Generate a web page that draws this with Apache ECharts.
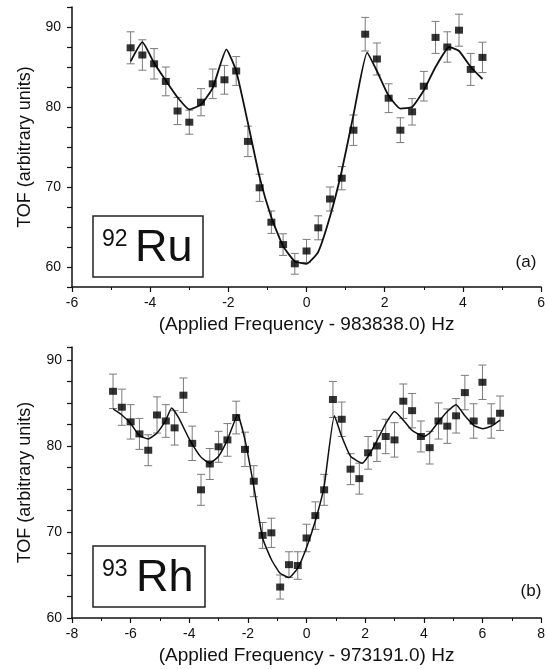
<!DOCTYPE html>
<html><head><meta charset="utf-8">
<script src="https://cdn.jsdelivr.net/npm/echarts@6/dist/echarts.min.js"></script>
<style>html,body{margin:0;padding:0;background:#fff}#c{width:548px;height:669px}</style>
</head><body><div id="c"></div>
<script>
// Panel (a) 92Ru
var ruX = [-4.5,-4.2,-3.9,-3.6,-3.3,-3.0,-2.7,-2.4,-2.1,-1.8,-1.5,-1.2,-0.9,-0.6,-0.3,0,0.3,0.6,0.9,1.2,1.5,1.8,2.1,2.4,2.7,3.0,3.3,3.6,3.9,4.2,4.5];
var ruY = [87.4,86.5,85.4,83.2,79.5,78.1,80.6,82.9,83.4,84.5,75.7,69.9,65.6,62.8,60.4,62.0,64.9,68.5,71.1,77.1,89.1,86.0,81.1,77.1,79.4,82.6,88.7,87.5,89.6,84.7,86.2];
var ruErr = [2.0,1.9,1.9,1.8,1.7,1.5,1.7,1.85,1.8,1.8,1.9,1.7,1.4,1.35,1.3,1.45,1.5,1.5,1.45,1.9,2.1,2.0,1.8,1.55,1.65,1.85,2.0,1.9,2.0,2.0,1.9];
var ruFitX = [-4.5,-4.2,-3.9,-3.6,-3.3,-3.0,-2.7,-2.4,-2.05,-1.8,-1.5,-1.2,-0.9,-0.6,-0.3,0,0.3,0.6,0.9,1.2,1.55,1.8,2.1,2.4,2.7,3.0,3.3,3.65,3.9,4.2,4.5];
var ruFitY = [85.7,88.1,85.5,83.3,81.2,79.7,80.3,82.4,87.2,84.5,78.0,71.2,66.2,62.6,60.7,60.4,61.9,66.3,72.0,79.0,86.8,84.5,81.4,79.8,80.0,82.1,85.0,87.5,87.0,85.0,83.5];

// Panel (b) 93Rh
var rhX = [-6.6,-6.3,-6.0,-5.7,-5.4,-5.1,-4.8,-4.5,-4.2,-3.9,-3.6,-3.3,-3.0,-2.7,-2.4,-2.1,-1.8,-1.5,-1.2,-0.9,-0.6,-0.3,0,0.3,0.6,0.9,1.2,1.5,1.8,2.1,2.4,2.7,3.0,3.3,3.6,3.9,4.2,4.5,4.8,5.1,5.4,5.7,6.0,6.3,6.6];
var rhY = [86.35,84.5,82.8,81.4,79.5,83.6,82.9,82.1,85.9,80.3,74.9,77.9,79.9,80.7,83.3,79.6,75.9,69.6,69.9,63.6,66.2,66.1,69.3,71.9,74.9,85.4,83.1,77.3,76.2,79.2,80.0,81.1,80.7,85.2,84.1,81.1,79.8,82.9,82.3,83.5,86.2,82.9,87.4,82.9,83.8];
var rhErr = [2.0,2.1,2.0,1.8,1.8,2.1,1.9,2.0,2.0,2.0,1.8,1.8,1.8,1.9,1.9,2.0,1.8,1.5,1.7,1.4,1.5,1.6,1.6,1.6,1.8,2.1,2.0,1.8,1.8,1.9,1.8,2.0,2.0,2.0,2.0,1.8,1.9,2.1,2.0,2.0,2.0,2.0,2.0,2.0,2.0];
var rhFitX = [-6.6,-6.3,-6.0,-5.7,-5.4,-5.1,-4.8,-4.6,-4.35,-4.0,-3.6,-3.3,-3.0,-2.7,-2.35,-2.1,-1.8,-1.5,-1.2,-0.9,-0.6,-0.3,0,0.3,0.6,0.95,1.2,1.5,1.9,2.1,2.4,2.7,3.0,3.3,3.6,4.0,4.2,4.5,4.8,5.1,5.4,5.7,6.0,6.3,6.6];
var rhFitY = [84.3,83.6,82.6,81.2,80.8,81.5,83.0,84.4,83.2,80.8,78.7,78.0,78.8,80.7,83.6,80.7,75.3,69.3,66.8,65.2,64.7,65.8,68.2,71.3,75.3,83.5,81.1,78.8,78.0,78.8,80.6,82.6,84.0,83.0,81.8,81.1,81.5,82.8,84.0,84.8,83.5,82.4,82.0,82.3,83.0];

var yTitle = 'TOF (arbitrary units)';
var xTitleA = '(Applied Frequency - 983838.0) Hz';
var xTitleB = '(Applied Frequency - 973191.0) Hz';

function zip(a, b) { return a.map(function (v, i) { return [v, b[i]]; }); }
function zip3(a, b, c) { return a.map(function (v, i) { return [v, b[i], c[i]]; }); }

var FONT = 'Liberation Sans, Arial, sans-serif';

function errSeries(idx, data) {
  return {
    type: 'custom', xAxisIndex: idx, yAxisIndex: idx, data: data, z: 2,
    renderItem: function (params, api) {
      var x = api.value(0), y = api.value(1), e = api.value(2);
      var hi = api.coord([x, y + e]), lo = api.coord([x, y - e]);
      var w = 4;
      var st = { stroke: '#7a7a7a', lineWidth: 1 };
      return { type: 'group', children: [
        { type: 'line', shape: { x1: hi[0], y1: hi[1], x2: lo[0], y2: lo[1] }, style: st },
        { type: 'line', shape: { x1: hi[0] - w, y1: hi[1], x2: hi[0] + w, y2: hi[1] }, style: st },
        { type: 'line', shape: { x1: lo[0] - w, y1: lo[1], x2: lo[0] + w, y2: lo[1] }, style: st }
      ]};
    }
  };
}

function xAxis(idx, min, max, title) {
  return {
    type: 'value', gridIndex: idx, min: min, max: max, interval: 2,
    name: title, nameLocation: 'middle', nameGap: 28,
    nameTextStyle: { fontFamily: FONT, fontSize: 19, color: '#111' },
    axisLine: { show: true, onZero: false, lineStyle: { color: '#111', width: 1.5 } },
    axisTick: { show: true, length: 5, lineStyle: { color: '#111', width: 1.2 } },
    minorTick: { show: true, splitNumber: 2, length: 3, lineStyle: { color: '#111', width: 1 } },
    axisLabel: { fontFamily: FONT, fontSize: 14, color: '#111', margin: 9 },
    splitLine: { show: false }
  };
}
function yAxis(idx, min, max, margin) {
  return {
    type: 'value', gridIndex: idx, min: min, max: max, interval: 2.5,
    name: yTitle, nameLocation: 'middle', nameGap: 38, nameRotate: 90,
    nameTextStyle: { fontFamily: FONT, fontSize: 18, color: '#111' },
    axisLine: { show: true, onZero: false, lineStyle: { color: '#111', width: 1.5 } },
    axisTick: { show: true, length: 5, lineStyle: { color: '#111', width: 1.2 } },
    axisLabel: { fontFamily: FONT, fontSize: 14, color: '#111', margin: margin,
      formatter: function (v) { return (Math.abs(v % 10) < 1e-6) ? String(v) : ''; } },
    splitLine: { show: false }
  };
}

var chart = echarts.init(document.getElementById('c'), null, { renderer: 'canvas' });
chart.setOption({
  backgroundColor: '#fff',
  animation: false,
  grid: [
    { left: 72, top: 7, width: 471, height: 280 },
    { left: 72, top: 347, width: 472, height: 271 }
  ],
  xAxis: [xAxis(0, -6, 6, xTitleA), xAxis(1, -8, 8, xTitleB)],
  yAxis: [yAxis(0, 57.5, 92.5, 11), yAxis(1, 60, 91.5, 10)],
  series: [
    { type: 'line', xAxisIndex: 0, yAxisIndex: 0, data: zip(ruFitX, ruFitY), showSymbol: false, smooth: 0.15,
      lineStyle: { color: '#111', width: 1.8 }, z: 3 },
    errSeries(0, zip3(ruX, ruY, ruErr)),
    { type: 'scatter', xAxisIndex: 0, yAxisIndex: 0, data: zip(ruX, ruY), symbol: 'rect', symbolSize: [8, 7],
      itemStyle: { color: '#000' }, z: 4 },
    { type: 'line', xAxisIndex: 1, yAxisIndex: 1, data: zip(rhFitX, rhFitY), showSymbol: false, smooth: 0.15,
      lineStyle: { color: '#111', width: 1.5 }, z: 3 },
    errSeries(1, zip3(rhX, rhY, rhErr)),
    { type: 'scatter', xAxisIndex: 1, yAxisIndex: 1, data: zip(rhX, rhY), symbol: 'rect', symbolSize: [8, 7],
      itemStyle: { color: '#000' }, z: 4 }
  ],
  graphic: [
    { type: 'rect', shape: { x: 93, y: 216, width: 110, height: 61 }, style: { fill: '#fff', stroke: '#222', lineWidth: 1.5 }, z: 10 },
    { type: 'text', x: 102, y: 228, style: { text: '92', fontFamily: FONT, fontSize: 23, fill: '#111', textVerticalAlign: 'top' }, z: 11 },
    { type: 'text', x: 135, y: 226, style: { text: 'Ru', fontFamily: FONT, fontSize: 45, fill: '#111', textVerticalAlign: 'top' }, z: 11 },
    { type: 'text', x: 526, y: 262, style: { text: '(a)', fontFamily: FONT, fontSize: 17, fill: '#111', textAlign: 'center', textVerticalAlign: 'middle' }, z: 11 },
    { type: 'rect', shape: { x: 93, y: 546, width: 112, height: 61 }, style: { fill: '#fff', stroke: '#222', lineWidth: 1.5 }, z: 10 },
    { type: 'text', x: 102, y: 558, style: { text: '93', fontFamily: FONT, fontSize: 23, fill: '#111', textVerticalAlign: 'top' }, z: 11 },
    { type: 'text', x: 136, y: 556, style: { text: 'Rh', fontFamily: FONT, fontSize: 45, fill: '#111', textVerticalAlign: 'top' }, z: 11 },
    { type: 'text', x: 531, y: 591, style: { text: '(b)', fontFamily: FONT, fontSize: 17, fill: '#111', textAlign: 'center', textVerticalAlign: 'middle' }, z: 11 }
  ]
});
</script></body></html>
